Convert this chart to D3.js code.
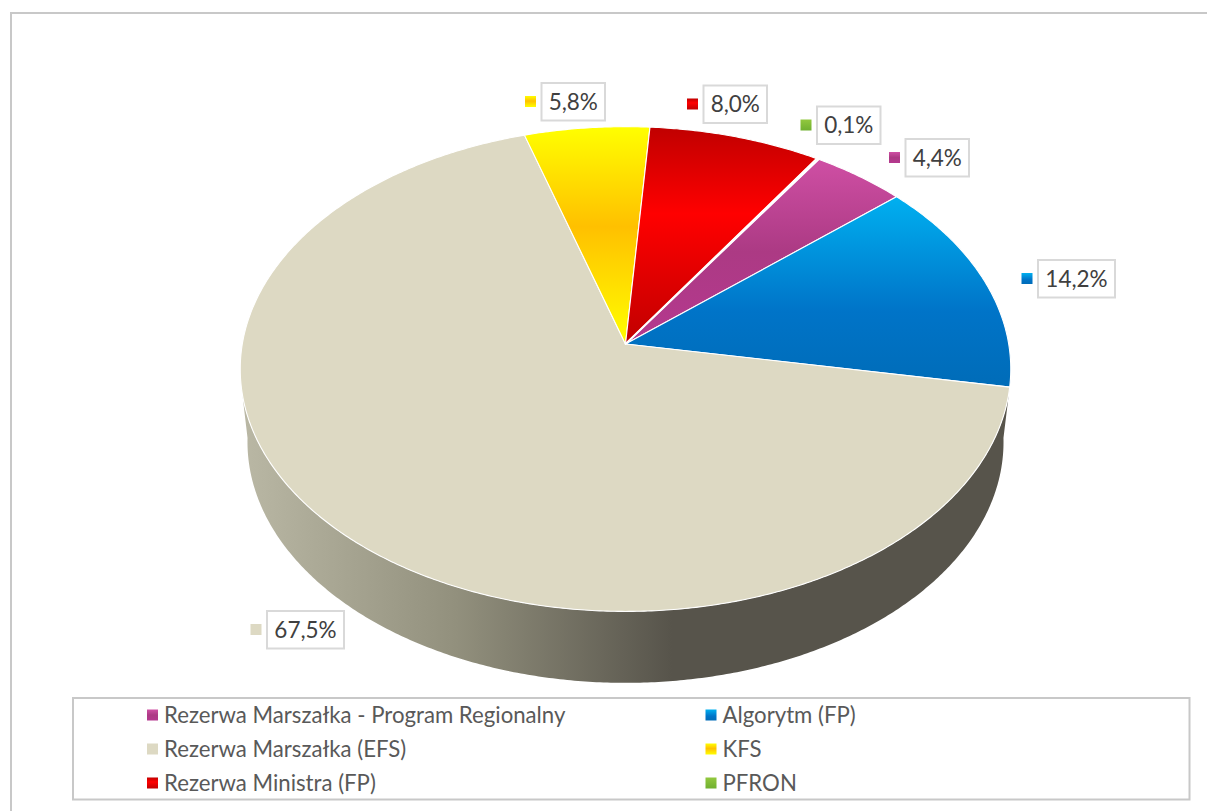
<!DOCTYPE html>
<html>
<head>
<meta charset="utf-8">
<script src="https://cdn.jsdelivr.net/npm/d3@7"></script>
<style>
    html, body { margin: 0; padding: 0; background: #fff; overflow: hidden; }
    text { font-family: Lato, "Open Sans", sans-serif; }
</style>
</head>
<body>
<div id="chart"></div>
<script>
// data
const categories = [
    "Rezerwa Marszałka - Program Regionalny",
    "Algorytm (FP)",
    "Rezerwa Marszałka (EFS)",
    "KFS",
    "Rezerwa Ministra (FP)",
    "PFRON",
];
const shares = [4.4, 14.2, 67.5, 5.8, 8.0, 0.1];

// gradient stops for each slice, same order as categories
const sliceStops = [
    [[0, "#cf4fa4"], [0.5, "#ac3a84"], [1, "#b5388f"]],
    [[0, "#00b0f0"], [0.6, "#0074c8"], [1, "#006cb8"]],
    [[0, "#ddd9c3"], [1, "#ddd9c3"]],
    [[0, "#ffff00"], [0.46, "#ffc000"], [1, "#ffff00"]],
    [[0, "#c00000"], [0.4, "#ff0000"], [1, "#c00000"]],
    [[0, "#92c83e"], [1, "#70b030"]],
];

// label box top-left corners, same order as categories
const labelBoxes = [
    [905.5, 139], [1038, 260], [267, 611], [541.5, 83], [703.5, 85.5], [817, 106.5],
];

const WIDTH = 1207;
const HEIGHT = 811;

const svg = d3.select("#chart").append("svg")
    .attr("width", WIDTH)
    .attr("height", HEIGHT);
const defs = svg.append("defs");

sliceStops.forEach((stops, i) => {
    const grad = defs.append("linearGradient")
        .attr("id", "slice" + i)
        .attr("x1", 0).attr("x2", 0).attr("y1", 0).attr("y2", 1);
    stops.forEach((s) => grad.append("stop").attr("offset", s[0]).attr("stop-color", s[1]));
});

const wallGrad = defs.append("linearGradient")
    .attr("id", "wall")
    .attr("gradientUnits", "userSpaceOnUse")
    .attr("x1", 240).attr("x2", 672).attr("y1", 0).attr("y2", 0);
wallGrad.append("stop").attr("offset", 0).attr("stop-color", "#bab8a5");
wallGrad.append("stop").attr("offset", 0.5).attr("stop-color", "#92907d");
wallGrad.append("stop").attr("offset", 1).attr("stop-color", "#57544b");

// outer chart frame, open on the right and at the bottom
svg.append("path")
    .attr("d", `M11,811V13H${WIDTH}`)
    .attr("fill", "none")
    .attr("stroke", "#c8c8c8")
    .attr("stroke-width", 2);

// perspective projection of the pie disc: angle is clockwise from 12 o'clock
const TILT = 0.1033;
function project(angle, r, centerY, a, b) {
    const px = r * Math.sin(angle);
    const py = r * Math.cos(angle);
    const w = 1 + TILT * py;
    return [625.5 + (a * px) / w, centerY - (b * py) / w];
}
const topDisc = (angle, r = 1) => project(angle, r, 344, 383.2, 239.8);
const lowDisc = (angle) => project(angle, 1, 417, 376, 238.4);

const rad = (deg) => (deg * Math.PI) / 180;
const line = d3.line();
const sweep = (from, to) => {
    const n = Math.ceil(Math.abs(to - from) / rad(0.5));
    return d3.range(n + 1).map((i) => from + ((to - from) * i) / n);
};

const arcs = d3.pie().sort(null)
    .startAngle(rad(33.2))
    .endAngle(rad(33.2) + 2 * Math.PI)(shares);

// side wall below the big slice
const wallEnd = arcs[2];
svg.append("path")
    .attr("d", line([
        ...sweep(wallEnd.startAngle, rad(258)).map((a) => topDisc(a)),
        ...sweep(rad(265), rad(95)).map(lowDisc),
    ]) + "Z")
    .attr("fill", "url(#wall)");

// top surface
svg.append("g").selectAll("path")
    .data(arcs)
    .join("path")
    .attr("d", (d) => line([topDisc(0, 0), ...sweep(d.startAngle, d.endAngle).map((a) => topDisc(a))]) + "Z")
    .attr("fill", (d) => `url(#slice${d.index})`)
    .attr("stroke", "#fff")
    .attr("stroke-width", (d) => (d.value < 1 ? 1.8 : 1.1))
    .attr("stroke-linejoin", "round");

// data labels
const pct = d3.formatLocale({ decimal: ",", thousands: " ", grouping: [3], currency: ["", ""] }).format(".1f");
const labels = svg.append("g").selectAll("g")
    .data(arcs)
    .join("g")
    .attr("transform", (d) => `translate(${labelBoxes[d.index]})`);
labels.append("rect")
    .attr("width", (d) => (d.value >= 10 ? 77 : 63.5))
    .attr("height", 37.5)
    .attr("fill", "#fff")
    .attr("stroke", "#d9d9d9")
    .attr("stroke-width", 2);
labels.append("rect")
    .attr("x", -16.5)
    .attr("y", 13)
    .attr("width", 11)
    .attr("height", 11)
    .attr("fill", (d) => `url(#slice${d.index})`);
labels.append("text")
    .attr("x", (d) => (d.value >= 10 ? 38.5 : 31.75))
    .attr("y", 26.5)
    .attr("text-anchor", "middle")
    .attr("font-size", 22.5)
    .attr("fill", "#404040")
    .text((d) => pct(d.value) + "%");

// legend
svg.append("rect")
    .attr("x", 73).attr("y", 698)
    .attr("width", 1116.5).attr("height", 101.5)
    .attr("fill", "#fff")
    .attr("stroke", "#c8c8c8")
    .attr("stroke-width", 2);

const legendX = d3.scalePoint().domain([0, 1]).range([147, 705.5]);
const legendY = d3.scalePoint().domain([0, 1, 2]).range([715, 783]);
const legend = svg.append("g").selectAll("g")
    .data(categories)
    .join("g")
    .attr("transform", (d, i) => `translate(${legendX(i % 2)},${legendY(Math.floor(i / 2))})`);
legend.append("rect")
    .attr("y", -5.5)
    .attr("width", 11)
    .attr("height", 11)
    .attr("fill", (d, i) => `url(#slice${i})`);
legend.append("text")
    .attr("x", 17)
    .attr("y", 7.5)
    .attr("font-size", 22.2)
    .attr("fill", "#595959")
    .text((d) => d);
</script>
</body>
</html>
